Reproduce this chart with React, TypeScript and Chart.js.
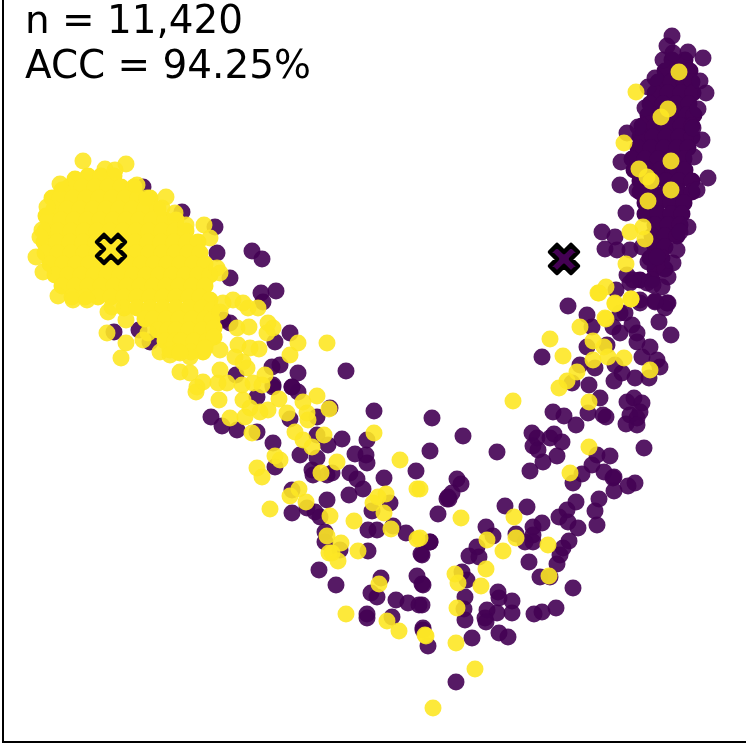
import React, { useEffect, useRef } from "react";
import { Chart, registerables } from "chart.js";

Chart.register(...registerables);

const annotationLines = ["n = 11,420", "ACC = 94.25%"];
const yellowCentroid: [number, number][] = [[111, 249]];
const purpleCentroid: [number, number][] = [[564, 259]];

const yellowBlob: [number, number][] = [
  [88,176],[101,176],[114,176],[75,179],
  [69,187],[82,187],[95,187],[108,187],[121,187],[134,187],[62,190],
  [52,198],[60,198],[73,198],[86,198],[99,198],[112,198],[125,198],[138,198],[150,198],
  [54,209],[67,209],[80,209],[93,209],[106,209],[119,209],[132,209],[145,209],[158,209],
  [46,216],[48,220],[61,220],[74,220],[87,220],[100,220],[113,220],[126,220],[139,220],[152,220],[165,220],[176,220],
  [45,231],[58,231],[71,231],[84,231],[97,231],[110,231],[123,231],[136,231],[149,231],[162,231],[175,231],[186,231],
  [44,242],[57,242],[70,242],[83,242],[96,242],[109,242],[122,242],[135,242],[148,242],[161,242],[174,242],[187,242],[198,242],
  [45,253],[58,253],[71,253],[84,253],[97,253],[110,253],[123,253],[136,253],[149,253],[162,253],[175,253],[188,253],[200,253],
  [50,264],[63,264],[76,264],[89,264],[102,264],[115,264],[128,264],[141,264],[154,264],[167,264],[180,264],[193,264],[205,264],
  [55,275],[68,275],[81,275],[94,275],[107,275],[120,275],[133,275],[146,275],[159,275],[172,275],[185,275],[198,275],[210,275],
  [62,286],[75,286],[88,286],[101,286],[114,286],[127,286],[140,286],[153,286],[166,286],[179,286],[192,286],[205,286],
  [72,297],[85,297],[98,297],[111,297],[124,297],[137,297],[150,297],[163,297],[176,297],[189,297],[200,297],[210,300],
  [124,308],[137,308],[150,308],[163,308],[176,308],[189,308],[202,308],[212,310],
  [145,319],[153,319],[166,319],[179,319],[192,319],[205,319],[212,320],
  [158,330],[168,330],[176,330],[189,330],[202,330],[214,328],
  [165,341],[175,341],[181,341],[194,341],[207,341],[214,337],
  [170,350],[178,352],[191,352],[203,352],[205,348],
];

const yellowOutliers: [number, number][] = [
  [83,161],[126,164],[60,184],[105,169],[115,170],[47,207],[42,230],[40,237],[36,257],[43,272],[58,296],[73,300],[87,300],
  [166,197],[137,185],[147,198],[162,208],[175,213],[186,225],[204,225],[210,238],[217,268],[220,273],
  [108,312],[112,307],[126,320],[107,333],[126,343],[121,358],[143,340],[148,333],[160,352],[170,355],[190,357],[180,353],
  [180,372],[190,373],[196,392],[197,387],[203,382],
  [223,303],[233,300],[243,303],[248,308],[258,308],[220,312],[237,328],[249,327],[268,323],[273,328],[267,333],[259,349],
  [220,350],[238,345],[250,348],[235,357],[243,362],[298,343],[290,355],[220,370],[247,368],[265,375],[218,383],[227,383],
  [242,385],[253,383],[262,385],[219,400],[243,400],[279,399],[303,402],[250,408],[260,412],[268,410],[287,413],[230,418],
  [245,417],[317,396],
  [252,433],[295,432],[303,440],[312,447],
  [307,413],[308,420],[329,409],[324,435],[327,343],[374,433],[400,460],[417,489],[337,462],[321,473],
  [275,456],[280,460],[257,468],[262,477],[299,489],[290,496],[306,502],[270,509],[330,516],[354,521],[327,536],[341,543],
  [329,553],[332,553],[338,561],[358,551],[373,503],[378,497],[386,494],[384,513],[391,529],[417,539],[379,584],[346,614],
  [387,621],[399,631],[426,636],[433,708],[475,669],[456,643],
  [550,339],[563,356],[513,401],[598,293],[615,303],[631,299],[606,319],[580,327],[593,341],[604,347],[593,360],[608,357],
  [624,358],[650,370],[577,372],[567,381],[559,388],[589,402],[589,447],[570,473],[461,518],[514,517],[487,540],[516,538],
  [503,551],[548,545],[549,576],[486,569],[455,574],[458,583],[481,586],[457,608],[425,635],[420,489],[420,538],
  [679,72],[636,92],[668,109],[661,117],[624,143],[671,161],[639,169],[647,177],[651,181],[671,190],[648,201],[643,227],
  [630,232],[645,239],[626,264],[606,287],[599,293],[615,304],[631,299],[605,318],
];

const purpleColumn: [number, number][] = [
  [672,60],[685,60],
  [665,71],[678,71],[690,71],
  [658,82],[671,82],[684,82],[692,82],
  [655,93],[668,93],[681,93],[693,93],
  [650,104],[663,104],[676,104],[689,104],
  [648,115],[661,115],[674,115],[687,115],[694,115],
  [642,126],[655,126],[668,126],[681,126],[692,126],
  [640,137],[653,137],[666,137],[679,137],[692,137],
  [638,148],[651,148],[664,148],[677,148],[688,148],
  [632,159],[645,159],[658,159],[671,159],[684,159],
  [634,170],[647,170],[660,170],[673,170],[685,170],
  [640,181],[653,181],[666,181],[679,181],[692,181],
  [640,192],[653,192],[666,192],[679,192],[692,192],
  [645,203],[658,203],[671,203],[684,203],
  [645,214],[658,214],[671,214],[682,214],
  [655,225],[668,225],[680,225],
  [652,236],[665,236],[677,236],
  [655,247],[665,247],
  [650,258],[662,258],
  [655,269],[665,269],
  [640,280],[652,280],
];

const purpleScatter: [number, number][] = [
  [672,36],[667,46],[688,52],[703,58],[663,60],[673,53],[700,81],[706,93],[698,109],[645,108],[648,87],[655,78],[638,127],
  [627,133],[702,140],[693,128],[694,157],[621,162],[708,178],[620,185],[697,190],[637,190],[626,213],[602,232],[688,227],
  [680,232],[605,249],[615,237],[617,250],[630,250],[642,247],[677,250],[673,263],[648,262],[657,257],[627,275],[668,277],
  [647,283],[662,287],[616,290],[653,285],[655,301],[668,303],[665,308],[568,306],[587,315],[625,313],[633,280],[640,300],[630,283],
  [592,327],[542,357],[659,322],[671,335],[667,303],[655,302],[640,303],[620,313],[613,327],[620,333],[632,325],[637,333],
  [637,342],[650,347],[607,345],[587,347],[642,357],[657,360],[660,367],[649,378],[635,378],[622,373],[614,381],[615,365],
  [595,368],[580,365],[572,383],[589,385],[600,398],[588,413],[603,415],[606,417],[627,402],[634,398],[642,403],[640,412],
  [630,415],[637,418],[626,424],[637,425],[553,412],[564,416],[576,425],[644,448],[432,418],[463,436],[430,451],[497,452],
  [532,433],[537,438],[533,446],[538,450],[554,434],[550,438],[562,442],[557,456],[543,462],[530,471],[597,455],[610,456],
  [592,465],[604,472],[614,477],[613,478],[582,474],[573,483],[635,483],[628,486],[614,491],[599,499],[576,502],[595,511],
  [597,525],[567,510],[559,517],[568,522],[578,528],[542,523],[533,527],[527,507],[505,506],[533,535],[533,542],[525,542],
  [569,541],[563,548],[560,555],[557,564],[529,562],[540,577],[550,577],[573,588],[556,608],[542,612],[534,614],[512,601],
  [512,613],[498,592],[499,598],[497,613],[487,610],[485,618],[486,622],[465,597],[464,609],[465,620],[486,527],[493,536],
  [516,534],[477,547],[469,556],[479,557],[462,572],[467,580],[438,514],[457,479],[461,484],[452,493],[449,499],[430,542],
  [422,555],[423,585],[422,605],[423,630],[472,638],[499,633],[508,637],[456,682],[428,646],
  [211,417],[222,426],[237,430],[257,432],[273,443],[275,467],[300,455],[292,490],[292,513],[307,508],[315,512],[320,517],
  [327,500],[312,470],[313,475],[317,458],[328,445],[342,439],[317,435],[332,473],[327,475],[350,473],[357,479],[363,489],
  [349,495],[355,454],[366,455],[367,463],[367,440],[374,411],[416,471],[384,478],[390,503],[372,511],[368,530],[377,530],
  [393,526],[406,533],[430,542],[421,554],[368,551],[325,532],[325,542],[340,550],[319,570],[336,585],[381,578],[371,593],
  [377,597],[396,600],[408,603],[419,605],[417,576],[422,584],[367,614],[367,618],[392,617],[423,628],[448,497],[447,499],
  [317,417],[330,408],[292,387],[298,392],[290,419],[273,385],
  [143,187],[182,212],[215,227],[252,251],[262,259],[217,253],[230,278],[261,293],[276,291],[263,302],[114,332],[139,330],
  [150,342],[223,320],[230,323],[290,333],[275,342],[272,367],[280,365],[298,373],[292,387],[273,387],[236,375],[257,397],
  [346,371],
];

const yellowColor = "rgba(253,231,37,0.9)";
const purpleColor = "rgba(68,1,84,0.9)";
const yellowSolid = "#fde725";
const purpleSolid = "#440154";

function toPoints(list: [number, number][]) {
  return list.map(([x, y]) => ({ x, y }));
}

function crossSprite(fill: string) {
  const size = 40;
  const u = 7;
  const c = document.createElement("canvas");
  c.width = size;
  c.height = size;
  const ctx = c.getContext("2d")!;
  const shape = [[-1,-2],[0,-1],[1,-2],[2,-1],[1,0],[2,1],[1,2],[0,1],[-1,2],[-2,1],[-1,0],[-2,-1]];
  ctx.translate(size / 2, size / 2);
  ctx.beginPath();
  shape.forEach(([a, b], i) => (i ? ctx.lineTo(a * u, b * u) : ctx.moveTo(a * u, b * u)));
  ctx.closePath();
  ctx.fillStyle = fill;
  ctx.fill();
  ctx.strokeStyle = "#000";
  ctx.lineWidth = 4.5;
  ctx.lineJoin = "round";
  ctx.stroke();
  return c;
}

const annotationPlugin = {
  id: "annotationText",
  afterDraw(chart: any) {
    const { ctx } = chart;
    ctx.save();
    ctx.fillStyle = "#000";
    ctx.font = '38.9px "DejaVu Sans"';
    ctx.textBaseline = "alphabetic";
    ctx.textAlign = "left";
    annotationLines.forEach((line, i) => ctx.fillText(line, 25, 33 + i * 45));
    ctx.restore();
  },
};

export default function App() {
  const ref = useRef<HTMLCanvasElement>(null);
  useEffect(() => {
    document.body.style.margin = "0";
    const chart = new Chart(ref.current!, {
      type: "scatter",
      data: {
        datasets: [
          { data: toPoints(yellowCentroid), pointStyle: crossSprite("#fde725") as any, pointRadius: 20, clip: false },
          { data: toPoints(purpleCentroid), pointStyle: crossSprite("#440154") as any, pointRadius: 20, clip: false },
          { data: toPoints(yellowOutliers), backgroundColor: yellowColor, borderWidth: 0, pointRadius: 8.5, clip: false },
          { data: toPoints(yellowBlob), backgroundColor: yellowSolid, borderWidth: 0, pointRadius: 8.5, clip: false },
          { data: toPoints(purpleScatter), backgroundColor: purpleColor, borderWidth: 0, pointRadius: 8.5, clip: false },
          { data: toPoints(purpleColumn), backgroundColor: purpleSolid, borderWidth: 0, pointRadius: 8.5, clip: false },
        ],
      },
      options: {
        responsive: false,
        animation: false,
        layout: { autoPadding: false, padding: { left: 3, bottom: 2, top: 0, right: 0 } },
        plugins: { legend: { display: false }, tooltip: { enabled: false } },
        scales: {
          x: {
            type: "linear",
            min: 3,
            max: 746,
            grid: { display: false, drawTicks: false },
            ticks: { display: false },
            border: { display: true, color: "#000", width: 2 },
          },
          y: {
            type: "linear",
            reverse: true,
            min: 0,
            max: 742,
            grid: { display: false, drawTicks: false },
            ticks: { display: false },
            border: { display: true, color: "#000", width: 2 },
          },
        },
      },
      plugins: [annotationPlugin],
    });
    return () => chart.destroy();
  }, []);
  return <canvas ref={ref} width={746} height={744} style={{ display: "block" }} />;
}
